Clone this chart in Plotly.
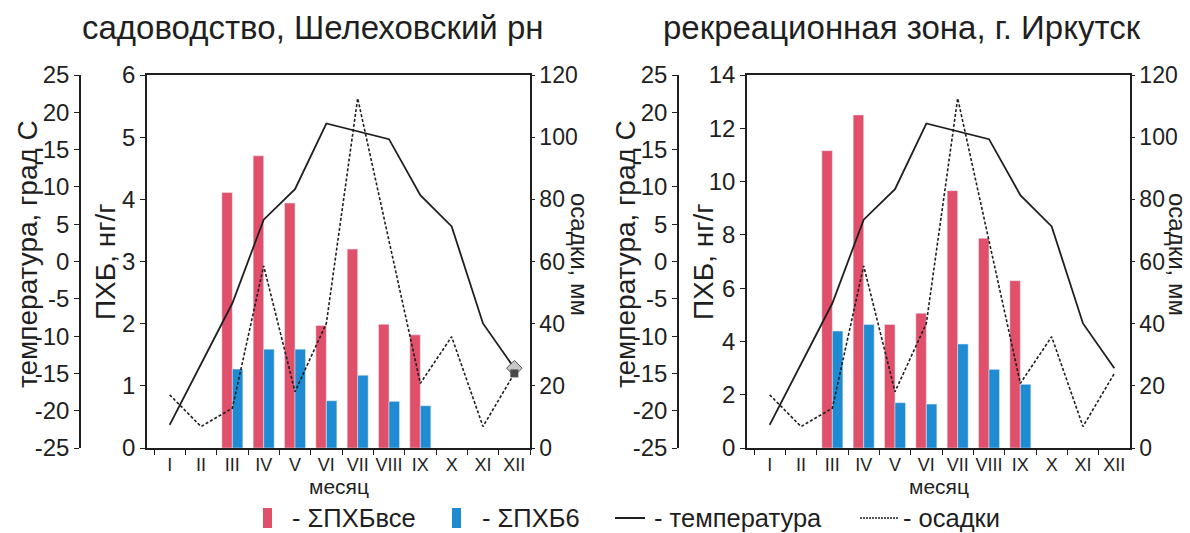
import plotly.graph_objects as go

# Months (Roman numerals)
months = ["I", "II", "III", "IV", "V", "VI", "VII", "VIII", "IX", "X", "XI", "XII"]

# ΣПХБ (all congeners) and ΣПХБ6, ng/g — garden plot, Shelekhov district
pcb_all_garden = [None, None, 4.11, 4.70, 3.94, 1.97, 3.20, 1.99, 1.82, None, None, None]
pcb6_garden = [None, None, 1.27, 1.59, 1.59, 0.76, 1.17, 0.75, 0.68, None, None, None]

# ΣПХБ (all congeners) and ΣПХБ6, ng/g — recreation zone, Irkutsk
pcb_all_recr = [None, None, 11.16, 12.50, 4.64, 5.06, 9.66, 7.87, 6.28, None, None, None]
pcb6_recr = [None, None, 4.39, 4.64, 1.70, 1.65, 3.90, 2.95, 2.39, None, None, None]

# Monthly air temperature, °C, and precipitation, mm
temperature = [-21.9, -13.7, -5.6, 5.6, 9.7, 18.5, 17.5, 16.4, 8.9, 4.7, -8.3, -14.3]
precipitation = [17.1, 6.9, 12.8, 58.6, 18.1, 40.1, 112.5, 66.6, 20.8, 35.8, 6.9, 24.0]

# Temperature axis ticks (plain hyphen for the minus sign)
temp_ticks = [-25, -20, -15, -10, -5, 0, 5, 10, 15, 20, 25]
temp_tick_text = ["-25", "-20", "-15", "-10", "-5", "0", "5", "10", "15", "20", "25"]

panel_titles = ["садоводство, Шелеховский рн", "рекреационная зона, г. Иркутск"]
legend_names = ["- ΣПХБвсе", "- ΣПХБ6", "- температура", "- осадки"]

RED = "#E0506A"
BLUE = "#1E8BD2"
INK = "#1f1f1f"
FONT = "Liberation Sans, Arial, sans-serif"

W, H = 1190, 533
M_T, M_B = 75, 85
PLOT_H = H - M_T - M_B


def px_x(v):
    return v / W


def px_y(v):
    return (H - M_B - v) / PLOT_H


fig = go.Figure()

panels = [
    dict(x="x", y_pcb="y", y_t="y2", y_p="y3", a=pcb_all_garden, b=pcb6_garden),
    dict(x="x2", y_pcb="y4", y_t="y5", y_p="y6", a=pcb_all_recr, b=pcb6_recr),
]

for p in panels:
    fig.add_trace(go.Bar(x=months, y=p["a"], name=legend_names[0], marker_color=RED,
                         xaxis=p["x"], yaxis=p["y_pcb"], showlegend=False))
    fig.add_trace(go.Bar(x=months, y=p["b"], name=legend_names[1], marker_color=BLUE,
                         xaxis=p["x"], yaxis=p["y_pcb"], showlegend=False))
    fig.add_trace(go.Scatter(x=months, y=temperature, name=legend_names[2], mode="lines",
                             line=dict(color=INK, width=1.8),
                             xaxis=p["x"], yaxis=p["y_t"], showlegend=False))
    fig.add_trace(go.Scatter(x=months, y=precipitation, name=legend_names[3], mode="lines",
                             line=dict(color=INK, width=1.6, dash="3px,2px"),
                             xaxis=p["x"], yaxis=p["y_p"], showlegend=False))

# end-point markers on the December values of the first panel
fig.add_trace(go.Scatter(x=months[-1:], y=precipitation[-1:], mode="markers",
                         marker=dict(symbol="square", size=8, color="#4a4a4a"),
                         xaxis="x", yaxis="y3", showlegend=False, hoverinfo="skip"))
fig.add_trace(go.Scatter(x=months[-1:], y=temperature[-1:], mode="markers",
                         marker=dict(symbol="diamond", size=12, color="#c8c8c8",
                                     line=dict(color="#555", width=1)),
                         xaxis="x", yaxis="y2", showlegend=False, hoverinfo="skip"))

axis_common = dict(showgrid=False, zeroline=False, showline=True, linecolor=INK,
                   linewidth=1.5, ticks="outside", tickcolor=INK, ticklen=5,
                   tickwidth=1.3, tickfont=dict(family=FONT, size=24, color=INK))

x_common = dict(axis_common, type="category", range=[-0.724, 11.5], tickson="boundaries",
                mirror=True, tickangle=0, tickfont=dict(family=FONT, size=18, color=INK))

temp_axis = dict(axis_common, range=[-25, 25], tickmode="array", tickvals=temp_ticks,
                 ticktext=temp_tick_text, anchor="free", side="left")

precip_axis = dict(axis_common, range=[0, 120], dtick=20, side="right", ticklen=3,
                   tickfont=dict(family=FONT, size=23, color=INK))

x_dom = [[147, 530], [747, 1130]]
t_pos = [80, 678]

fig.update_layout(
    width=W, height=H,
    margin=dict(l=0, r=0, t=M_T, b=M_B, autoexpand=False),
    paper_bgcolor="white", plot_bgcolor="rgba(0,0,0,0)",
    barmode="group", bargap=0.33, bargroupgap=0,
    xaxis=dict(x_common, domain=[px_x(x_dom[0][0]), px_x(x_dom[0][1])], anchor="y"),
    xaxis2=dict(x_common, domain=[px_x(x_dom[1][0]), px_x(x_dom[1][1])], anchor="y4"),
    yaxis=dict(axis_common, range=[0, 6], dtick=1, anchor="x"),
    yaxis2=dict(temp_axis, overlaying="y", position=px_x(t_pos[0])),
    yaxis3=dict(precip_axis, overlaying="y", anchor="x"),
    yaxis4=dict(axis_common, range=[0, 14], dtick=2, anchor="x2"),
    yaxis5=dict(temp_axis, overlaying="y4", position=px_x(t_pos[1])),
    yaxis6=dict(precip_axis, overlaying="y4", anchor="x2"),
    showlegend=False,
)


def label(text, x, y, size, angle=0, anchor="center"):
    return dict(text=text, x=px_x(x), y=px_y(y), xref="paper", yref="paper",
                xanchor=anchor, yanchor="middle", showarrow=False, textangle=angle,
                font=dict(family=FONT, size=size, color=INK))


annotations = []
shapes = []
title_x = [313, 902]
precip_title_x = [580, 1178]
for i in range(2):
    off = 0 if i == 0 else 598
    xc = (x_dom[i][0] + x_dom[i][1]) / 2
    annotations.append(label(panel_titles[i], title_x[i], 28, 33))
    annotations.append(label("температура, град С", 27 + off, 254, 28, -90))
    annotations.append(label("ПХБ, нг/г", 105 + off, 262, 28, -90))
    annotations.append(label("осадки, мм", precip_title_x[i], 254, 24, 90))
    annotations.append(label("месяц", xc, 486, 21))

# legend row: swatches and their captions
LY = 518
shapes.append(dict(type="rect", xref="paper", yref="paper",
                   x0=px_x(263), x1=px_x(272), y0=px_y(528), y1=px_y(508),
                   fillcolor=RED, line=dict(width=0)))
shapes.append(dict(type="rect", xref="paper", yref="paper",
                   x0=px_x(452), x1=px_x(461), y0=px_y(528), y1=px_y(508),
                   fillcolor=BLUE, line=dict(width=0)))
shapes.append(dict(type="line", xref="paper", yref="paper",
                   x0=px_x(615), x1=px_x(645), y0=px_y(LY), y1=px_y(LY),
                   line=dict(color=INK, width=2)))
shapes.append(dict(type="line", xref="paper", yref="paper",
                   x0=px_x(860), x1=px_x(898), y0=px_y(LY), y1=px_y(LY),
                   line=dict(color=INK, width=1.5, dash="2px,1px")))
for name, xl in zip(legend_names, [290, 480, 652, 901]):
    annotations.append(label(name, xl, LY, 25.5, anchor="left"))

fig.update_layout(annotations=annotations, shapes=shapes)

fig.write_html("out.html")
